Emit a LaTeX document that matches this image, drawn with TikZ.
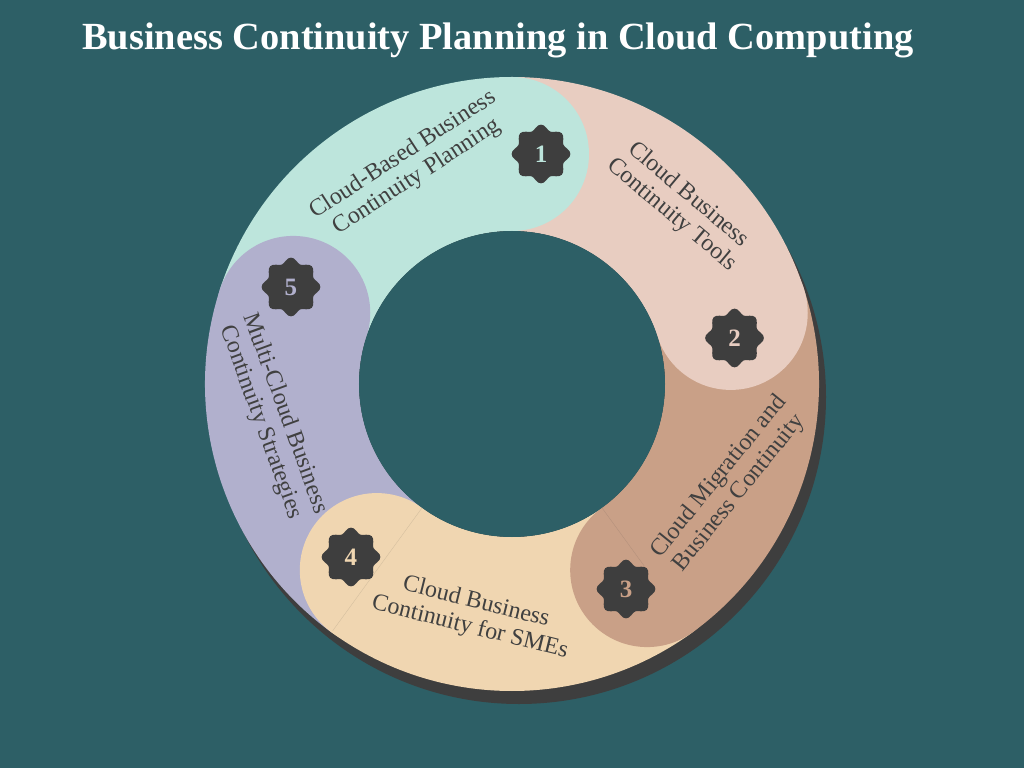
\documentclass[tikz,border=0pt]{standalone}
\usepackage{fontspec}
\setmainfont{Liberation Serif}
\definecolor{bg}{HTML}{2D5F66}
\definecolor{shadowc}{HTML}{3E3E3E}
\definecolor{cA}{HTML}{BDE5DC}
\definecolor{cB}{HTML}{E8CDC1}
\definecolor{cC}{HTML}{C9A087}
\definecolor{cD}{HTML}{F0D6B1}
\definecolor{cE}{HTML}{B1B0CD}
\definecolor{ink}{HTML}{404040}
\tikzset{
  lbl/.style={text=ink, align=center, font=\fontsize{24}{26}\selectfont, inner sep=0pt},
  num/.style={font=\bfseries\fontsize{25}{25}\selectfont, inner sep=0pt},
  ttl/.style={text=white, font=\bfseries\fontsize{38.4}{40}\selectfont, anchor=base, inner sep=0pt},
  seam/.style={draw=ink, draw opacity=0.15, line width=0.4pt},
  badgefill/.style={fill=shadowc}
}
\begin{document}
\begin{tikzpicture}[x=1pt,y=1pt]
\fill[bg] (-512,-384) rectangle (512,384);
\useasboundingbox (-512,-384) rectangle (512,384);
\node[ttl] (title) at (-14,334) {Business Continuity Planning in Cloud Computing};
% shadow
\fill[shadowc] (7,-13) circle (307);
% ring sectors
\foreach \e/\c in {90/cA,18/cB,-54/cC,-126/cD,-198/cE}{
  \fill[\c] (\e:307) arc[start angle=\e, end angle=\e+72, radius=307]
    -- ({\e+72}:153) arc[start angle=\e+72, end angle=\e, radius=153] -- cycle;
}
% rounded heads
\foreach \e/\c in {90/cA,18/cB,-54/cC,-126/cD,-198/cE}{
  \fill[\c] (\e:230) circle (77);
}
\fill[bg] (0,0) circle (153);
\draw[seam] (-54:153) -- (-54:225);
\draw[seam] (-126:153) -- (-126:305);
% labels
\node[lbl, rotate=33] (t1) at (-102,218) {Cloud-Based Business\\Continuity Planning};
\node[lbl, rotate=-40] (t2) at (168,179) {Cloud Business\\Continuity Tools};
\node[lbl, rotate=51] (t3) at (217,-101) {Cloud Migration and\\Business Continuity};
\node[lbl, rotate=-14] (t4) at (-39,-231) {Cloud Business\\Continuity for SMEs};
\node[lbl, rotate=-70] (t5) at (-239,-34) {Multi-Cloud Business\\Continuity Strategies};
% badges
\foreach \n/\bx/\by/\c in {1/29/230/cA,2/222.5/46/cB,3/114/-205/cC,4/-161/-173/cD,5/-221/97/cE}{
  \path[badgefill, shift={(\bx,\by)}] plot[smooth cycle, samples=64, domain=0:354.375] (\x:{26.8+2.6*cos(8*\x)});
  \node[num, text=\c] (b\n) at (\bx,\by) {\n};
}
\end{tikzpicture}
\end{document}
